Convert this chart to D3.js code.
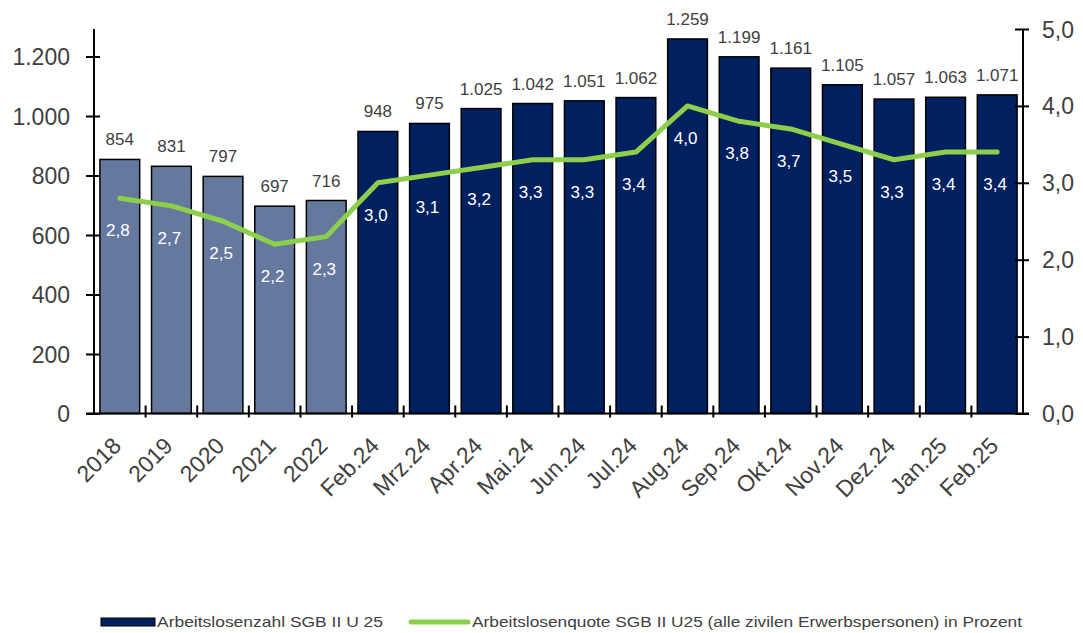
<!DOCTYPE html>
<html>
<head>
<meta charset="utf-8">
<script src="https://cdn.jsdelivr.net/npm/d3@7"></script>
<style>
  body { margin: 0; background: #fff; }
  text { font-family: "Liberation Sans", Arial, sans-serif; fill: #404040; }
</style>
</head>
<body>
<div id="chart"></div>
<script>
var categories = ["2018", "2019", "2020", "2021", "2022", "Feb.24", "Mrz.24", "Apr.24", "Mai.24",
    "Jun.24", "Jul.24", "Aug.24", "Sep.24", "Okt.24", "Nov.24", "Dez.24", "Jan.25", "Feb.25"];
var counts = [854, 831, 797, 697, 716, 948, 975, 1025, 1042, 1051, 1062, 1259, 1199, 1161, 1105, 1057, 1063, 1071];
var rates = [2.8, 2.7, 2.5, 2.2, 2.3, 3.0, 3.1, 3.2, 3.3, 3.3, 3.4, 4.0, 3.8, 3.7, 3.5, 3.3, 3.4, 3.4];
var leftTicks = [0, 200, 400, 600, 800, 1000, 1200];
var rightTicks = [0, 1, 2, 3, 4, 5];
var yearCount = 5; // first five bars are annual values
var legendLabels = ["Arbeitslosenzahl SGB II U 25",
    "Arbeitslosenquote SGB II U25 (alle zivilen Erwerbspersonen) in Prozent"];

var width = 1083, height = 633;
var plotL = 94, plotR = 1023, plotT = 29, plotB = 413.5;

var fmtInt = function(d) { return d3.format(",")(d).replace(/,/g, "."); };
var fmtDec = function(d) { return d3.format(".1f")(d).replace(".", ","); };

var x = d3.scaleBand()
    .domain(categories)
    .range([plotL, plotR])
    .paddingInner(0.23)
    .paddingOuter(0.115);

var yL = d3.scaleLinear().domain([0, 1292.5]).range([plotB, plotT]);
var yR = d3.scaleLinear().domain([0, 5]).range([plotB, plotT]);

var svg = d3.select("#chart").append("svg")
    .attr("width", width)
    .attr("height", height);

// bars
svg.append("g").selectAll("rect")
    .data(counts)
    .enter().append("rect")
    .attr("x", function(d, i) { return x(categories[i]); })
    .attr("y", function(d) { return yL(d); })
    .attr("width", x.bandwidth())
    .attr("height", function(d) { return yL(0) - yL(d); })
    .attr("fill", function(d, i) { return i < yearCount ? "#65799f" : "#002060"; })
    .attr("stroke", "#000")
    .attr("stroke-width", 1.5);

// bar value labels
svg.append("g").selectAll("text")
    .data(counts)
    .enter().append("text")
    .attr("x", function(d, i) { return x(categories[i]) + x.bandwidth() / 2; })
    .attr("y", function(d) { return yL(d) - 14; })
    .attr("text-anchor", "middle")
    .style("font-size", "17px")
    .text(fmtInt);

// axes
var axisL = d3.axisLeft(yL).tickValues(leftTicks).tickSize(0).tickFormat(fmtInt);
var gL = svg.append("g").attr("transform", "translate(" + plotL + ",0)").call(axisL);
gL.select(".domain").attr("stroke", "#000").attr("stroke-width", 2)
    .attr("d", "M0," + plotT + "V" + plotB);
gL.selectAll(".tick line").attr("x1", -8).attr("x2", 6).attr("stroke", "#000").attr("stroke-width", 2);
gL.selectAll(".tick text").attr("x", -24).attr("dy", "0.35em")
    .style("font-size", "23px").style("font-family", "Liberation Sans, Arial, sans-serif").attr("fill", "#404040");

var axisR = d3.axisRight(yR).tickValues(rightTicks).tickSize(0).tickFormat(fmtDec);
var gR = svg.append("g").attr("transform", "translate(" + plotR + ",0)").call(axisR);
gR.select(".domain").attr("stroke", "#000").attr("stroke-width", 2)
    .attr("d", "M0," + plotT + "V" + plotB);
gR.selectAll(".tick line").attr("x1", -8).attr("x2", 6).attr("stroke", "#000").attr("stroke-width", 2);
gR.selectAll(".tick text").attr("x", 19).attr("dy", "0.35em")
    .style("font-size", "23px").style("font-family", "Liberation Sans, Arial, sans-serif").attr("fill", "#404040");

// bottom axis with ticks between categories
var gB = svg.append("g");
gB.append("line")
    .attr("x1", plotL - 8).attr("x2", plotR + 6)
    .attr("y1", plotB).attr("y2", plotB)
    .attr("stroke", "#000").attr("stroke-width", 2);
var step = x.step();
gB.selectAll(".sep")
    .data(categories.slice(1))
    .enter().append("line")
    .attr("x1", function(d) { return x(d) - (step - x.bandwidth()) / 2; })
    .attr("x2", function(d) { return x(d) - (step - x.bandwidth()) / 2; })
    .attr("y1", plotB - 8).attr("y2", plotB + 4)
    .attr("stroke", "#000").attr("stroke-width", 2);
gB.selectAll(".lab")
    .data(categories)
    .enter().append("text")
    .attr("transform", function(d) {
        return "translate(" + (x(d) + x.bandwidth() / 2 - 3) + "," + (plotB + 28) + ") rotate(-45)";
    })
    .attr("text-anchor", "end")
    .attr("dy", "0.35em")
    .style("font-size", "23px")
    .text(function(d) { return d; });

// rate line
var line = d3.line()
    .x(function(d, i) { return x(categories[i]) + x.bandwidth() / 2; })
    .y(function(d) { return yR(d); });

svg.append("path")
    .datum(rates)
    .attr("d", line)
    .attr("fill", "none")
    .attr("stroke", "#8ccf4d")
    .attr("stroke-width", 5)
    .attr("stroke-linejoin", "round")
    .attr("stroke-linecap", "round");

svg.append("g").selectAll("text")
    .data(rates)
    .enter().append("text")
    .attr("x", function(d, i) { return x(categories[i]) + x.bandwidth() / 2 - 2; })
    .attr("y", function(d) { return yR(d) + 32; })
    .attr("dy", "0.35em")
    .attr("text-anchor", "middle")
    .style("font-size", "17px")
    .style("fill", "#fff")
    .text(fmtDec);

// legend
var lg = svg.append("g").attr("transform", "translate(0,622)");
lg.append("rect")
    .attr("x", 101).attr("y", -4).attr("width", 54).attr("height", 8)
    .attr("fill", "#002060").attr("stroke", "#000").attr("stroke-width", 1);
lg.append("text")
    .attr("x", 157).attr("dy", "0.35em")
    .attr("textLength", 226).attr("lengthAdjust", "spacingAndGlyphs")
    .style("font-size", "15px")
    .text(legendLabels[0]);
lg.append("line")
    .attr("x1", 411).attr("x2", 468)
    .attr("stroke", "#8ccf4d").attr("stroke-width", 5).attr("stroke-linecap", "round");
lg.append("text")
    .attr("x", 472).attr("dy", "0.35em")
    .attr("textLength", 550).attr("lengthAdjust", "spacingAndGlyphs")
    .style("font-size", "15px")
    .text(legendLabels[1]);
</script>
</body>
</html>
